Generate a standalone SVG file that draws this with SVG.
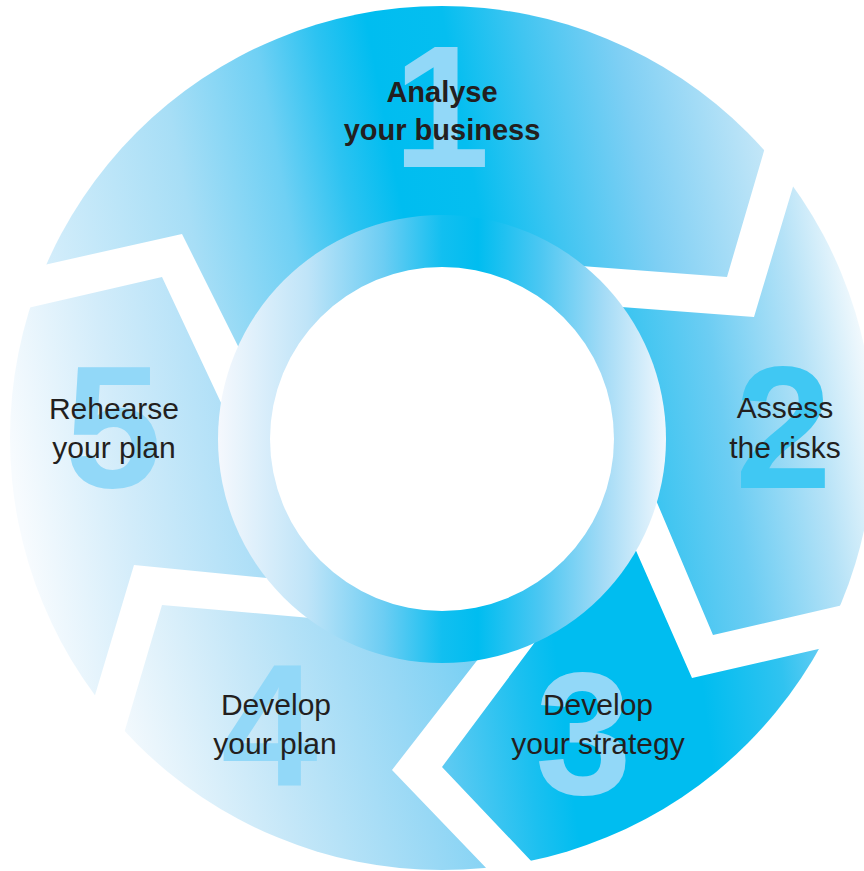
<svg xmlns="http://www.w3.org/2000/svg" width="864" height="871" viewBox="0 0 864 871">
<style>
.num{font-family:"Liberation Sans",Arial,sans-serif;font-weight:bold;font-size:174px}
.lbl{font-family:"Liberation Sans",Arial,sans-serif;font-size:30px;fill:#231f20;text-anchor:middle}
.lblb{font-family:"Liberation Sans",Arial,sans-serif;font-weight:bold;font-size:29px;fill:#231f20;text-anchor:middle}
.lite{fill:#92d8f8}
</style>
<defs>
<clipPath id="disc"><circle cx="442" cy="438" r="432"/></clipPath>
<linearGradient id="gS1" gradientUnits="userSpaceOnUse" x1="40" y1="320" x2="780" y2="180">
<stop offset="0" stop-color="#d9effb"/><stop offset="0.22" stop-color="#a7def6"/><stop offset="0.35" stop-color="#6fd0f4"/><stop offset="0.43" stop-color="#2dc3f1"/><stop offset="0.5" stop-color="#00bdf0"/><stop offset="0.6" stop-color="#05bef0"/><stop offset="0.7" stop-color="#40c5f1"/><stop offset="0.82" stop-color="#7ecff4"/><stop offset="1" stop-color="#c8e8f8"/>
</linearGradient>
<linearGradient id="gS2" gradientUnits="userSpaceOnUse" x1="620" y1="420" x2="870" y2="380">
<stop offset="0" stop-color="#2ec2f0"/><stop offset="0.4" stop-color="#6ccdf3"/><stop offset="0.75" stop-color="#b5e2f7"/><stop offset="1" stop-color="#f2f9fd"/>
</linearGradient>
<linearGradient id="gS3" gradientUnits="userSpaceOnUse" x1="440" y1="700" x2="840" y2="650">
<stop offset="0" stop-color="#5ccaf2"/><stop offset="0.2" stop-color="#1cc0f0"/><stop offset="0.3" stop-color="#00bdf0"/><stop offset="0.65" stop-color="#00bdf0"/><stop offset="0.85" stop-color="#30c3f0"/><stop offset="1" stop-color="#7ad0f4"/>
</linearGradient>
<linearGradient id="gS4" gradientUnits="userSpaceOnUse" x1="125" y1="740" x2="500" y2="640">
<stop offset="0" stop-color="#f3f9fd"/><stop offset="0.35" stop-color="#c5e7f8"/><stop offset="0.7" stop-color="#98d8f5"/><stop offset="1" stop-color="#6dcdf3"/>
</linearGradient>
<linearGradient id="gS5" gradientUnits="userSpaceOnUse" x1="15" y1="480" x2="280" y2="440">
<stop offset="0" stop-color="#f7fbfe"/><stop offset="0.4" stop-color="#d2ecfa"/><stop offset="1" stop-color="#a0daf6"/>
</linearGradient>
<linearGradient id="gRing" gradientUnits="userSpaceOnUse" x1="218" y1="440" x2="666" y2="440">
<stop offset="0" stop-color="#f5f8fd"/><stop offset="0.2" stop-color="#bfe4f8"/><stop offset="0.37" stop-color="#6ccdf3"/><stop offset="0.5" stop-color="#12bff0"/><stop offset="0.58" stop-color="#00bdf0"/><stop offset="0.72" stop-color="#4cc7f2"/><stop offset="0.86" stop-color="#a3dbf6"/><stop offset="1" stop-color="#f0f7fd"/>
</linearGradient>
</defs>
<rect width="864" height="871" fill="#ffffff"/>

<g id="step1">
<path clip-path="url(#disc)" fill="url(#gS1)" d="M28.5 268.4 A1 1 0 0 1 769.6 131.8 L727 277 L568 264.9 L442 439 L246.7 363.4 L182 234 Z"/>
<text class="num lite" x="393" y="167">1</text>
<text class="lblb" x="442" y="102">Analyse</text>
<text class="lblb" x="442" y="140">your business</text>
</g>

<g id="step2">
<path clip-path="url(#disc)" fill="url(#gS2)" d="M798.7 167.8 A1 1 0 0 1 862.5 600.5 L713 635 L652.2 491.2 L442 439 L608 305.9 L754 317 Z"/>
<text class="num" x="735" y="488" fill="#40c8f3">2</text>
<text class="lbl" x="785" y="418">Assess</text>
<text class="lbl" x="785" y="458">the risks</text>
</g>

<g id="step3">
<path clip-path="url(#disc)" fill="url(#gS3)" d="M842.5 643.5 A1 1 0 0 1 545.8 876.5 L442 767 L544 630 L442 439 L631 539.3 L692 678 Z"/>
<text class="num lite" x="535" y="794">3</text>
<text class="lbl" x="598" y="715">Develop</text>
<text class="lbl" x="598" y="754">your strategy</text>
</g>

<g id="step4">
<path clip-path="url(#disc)" fill="url(#gS4)" d="M501.9 884.4 A1 1 0 0 1 119.3 749.2 L162 605 L325 619.3 L442 439 L484.2 651.2 L392 770 Z"/>
<text class="num lite" x="221" y="785">4</text>
<text class="lbl" x="276" y="715">Develop</text>
<text class="lbl" x="275" y="754">your plan</text>
</g>

<g id="step5">
<path clip-path="url(#disc)" fill="url(#gS5)" d="M89.3 714.2 A1 1 0 0 1 12.5 311.5 L162 277 L228.4 418.6 L442 439 L282 579.5 L134 565 Z"/>
<text class="num lite" x="65" y="487">5</text>
<text class="lbl" x="114" y="419">Rehearse</text>
<text class="lbl" x="114" y="458">your plan</text>
</g>

<g id="hub">
<circle cx="442" cy="439" r="224" fill="url(#gRing)"/>
<circle cx="442" cy="439" r="172" fill="#ffffff"/>
</g>
<g id="connectors"/>
</svg>
